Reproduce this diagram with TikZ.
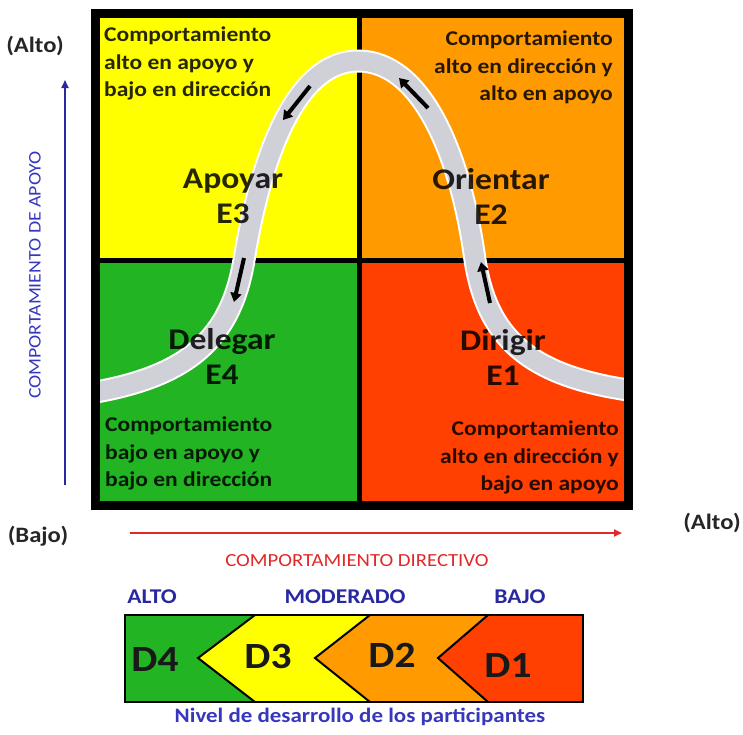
\documentclass[tikz,border=0pt]{standalone}
\usepackage{fontspec}
\setmainfont{Carlito}[FakeStretch=1.12]
\usetikzlibrary{arrows.meta}
\definecolor{qyellow}{RGB}{255,255,0}
\definecolor{qorange}{RGB}{255,155,0}
\definecolor{qgreen}{RGB}{34,180,34}
\definecolor{qred}{RGB}{255,64,0}
\definecolor{curvegray}{RGB}{208,208,216}
\definecolor{axisblue}{RGB}{40,40,160}
\definecolor{labelblue}{RGB}{55,55,190}
\definecolor{axisred}{RGB}{225,40,40}
\begin{document}
\begin{tikzpicture}[x=1pt,y=-1pt,
  corner/.style={font=\bfseries\fontsize{21}{27.5}\selectfont, text opacity=0.85, inner sep=0pt},
  bigname/.style={font=\bfseries\fontsize{30}{35}\selectfont, align=center, inner sep=0pt, text opacity=0.85},
  axislabel/.style={font=\bfseries\fontsize{22}{26}\selectfont, text=black!85, inner sep=0pt},
  levellabel/.style={font=\bfseries\fontsize{21}{24}\selectfont, text=axisblue, inner sep=0pt},
  dlabel/.style={font=\bfseries\fontsize{37}{40}\selectfont, text=black!90, inner sep=0pt},
  pathstep/.style={line width=4, -{Triangle[length=9,width=11]}},
  chevron/.style={draw=black, line width=2, line join=miter}]
\useasboundingbox (0,0) rectangle (743,734);

% quadrants
\fill[qyellow] (96,14) rectangle (359,260);
\fill[qorange] (359,14) rectangle (628,260);
\fill[qgreen] (96,260) rectangle (359,505);
\fill[qred] (359,260) rectangle (628,505);

% dividers
\draw[line width=5] (359,14) -- (359,505);
\draw[line width=5] (96,260) -- (628,260);

% bell-shaped path of the styles
\draw[curvegray, line width=19, preaction={draw=white, line width=23}]
  (96,392) .. controls (190,375) and (231,337) .. (244,260)
  .. controls (262,150) and (298,61) .. (358,61)
  .. controls (420,61) and (460,150) .. (475,260)
  .. controls (487,337) and (528,375) .. (628,390);

% outer frame
\draw[line width=9] (95.5,13.5) rectangle (628,505);

% direction marks along the path
\coordinate (r1a) at (490,303); \coordinate (r1b) at (481,262);
\coordinate (r2a) at (428,108); \coordinate (r2b) at (399,78);
\coordinate (l1a) at (310,86);  \coordinate (l1b) at (283,120);
\coordinate (l2a) at (244,258); \coordinate (l2b) at (234,302);
\draw[pathstep] (r1a) -- (r1b);
\draw[pathstep] (r2a) -- (r2b);
\draw[pathstep] (l1a) -- (l1b);
\draw[pathstep] (l2a) -- (l2b);

% quadrant descriptions
\node[corner, anchor=north west, align=left] (tl) at (104,27)
  {Comportamiento\\alto en apoyo y\\bajo en dirección};
\node[corner, anchor=north east, align=right] (tr) at (613,31)
  {Comportamiento\\alto en dirección y\\alto en apoyo};
\node[corner, anchor=north west, align=left] (bl) at (105,417)
  {Comportamiento\\bajo en apoyo y\\bajo en dirección};
\node[corner, anchor=north east, align=right] (br) at (619,421)
  {Comportamiento\\alto en dirección y\\bajo en apoyo};

% style names
\node[bigname] (e3) at (233,196) {Apoyar\\E3};
\node[bigname] (e2) at (491,196) {Orientar\\E2};
\node[bigname] (e4) at (222,356) {Delegar\\E4};
\node[bigname] (e1) at (503,357) {Dirigir\\E1};

% axes
\coordinate (vb) at (65,485); \coordinate (vt) at (65,80);
\draw[axisblue, line width=1.8, -{Triangle[length=8,width=7]}] (vb) -- (vt);
\node[rotate=90, text=labelblue, font=\fontsize{17.7}{20}\selectfont, inner sep=0pt] (vlab) at (35,275) {COMPORTAMIENTO DE APOYO};
\node[axislabel] (altoy) at (35,46) {(Alto)};
\node[axislabel] (bajoy) at (38,536) {(Bajo)};
\node[axislabel] (altox) at (712,523) {(Alto)};
\coordinate (hl) at (130,533); \coordinate (hr) at (622,533);
\draw[axisred, line width=1.8, -{Triangle[length=8,width=7]}] (hl) -- (hr);
\node[text=axisred, font=\fontsize{18.5}{21}\selectfont, inner sep=0pt] (hlab) at (357,561) {COMPORTAMIENTO DIRECTIVO};

% development levels
\node[levellabel] (lalto) at (152,597) {ALTO};
\node[levellabel] (lmod) at (345,597) {MODERADO};
\node[levellabel] (lbajo) at (520,597) {BAJO};

\fill[qgreen] (125,615) -- (255,615) -- (198,658) -- (255,702) -- (125,702) -- cycle;
\fill[qyellow] (255,615) -- (370,615) -- (315,658) -- (370,702) -- (255,702) -- (198,658) -- cycle;
\fill[qorange] (370,615) -- (488,615) -- (438,658) -- (488,702) -- (370,702) -- (315,658) -- cycle;
\fill[qred] (488,615) -- (583,615) -- (583,702) -- (488,702) -- (438,658) -- cycle;
\draw[chevron] (255,615) -- (198,658) -- (255,702);
\draw[chevron] (370,615) -- (315,658) -- (370,702);
\draw[chevron] (488,615) -- (438,658) -- (488,702);
\draw[chevron, line width=2.5] (125,615) rectangle (583,702);

\node[dlabel] (d4) at (155,659) {D4};
\node[dlabel] (d3) at (268,656) {D3};
\node[dlabel] (d2) at (392,655) {D2};
\node[dlabel] (d1) at (508,665) {D1};

\node[font=\bfseries\fontsize{20.5}{23}\selectfont, text=labelblue, inner sep=0pt] (nivel) at (360,717) {Nivel de desarrollo de los participantes};
\end{tikzpicture}
\end{document}
